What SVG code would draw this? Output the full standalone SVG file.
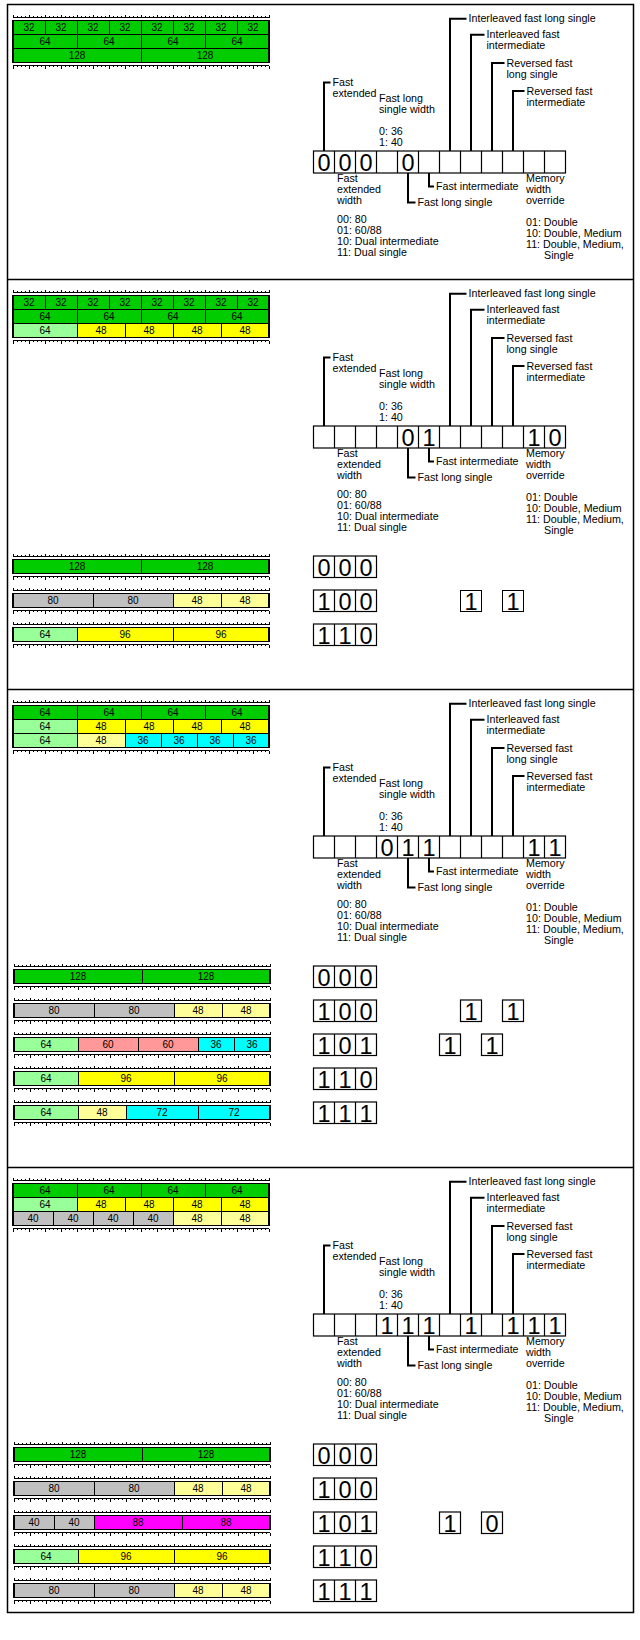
<svg xmlns="http://www.w3.org/2000/svg" xmlns:xlink="http://www.w3.org/1999/xlink" width="640" height="1640" viewBox="0 0 640 1640">
<style>
.t{font-family:"Liberation Sans",Arial,sans-serif;font-size:10.7px;fill:#000}
.bl{font-family:"Liberation Sans",Arial,sans-serif;font-size:10px;fill:#000;text-anchor:middle}
.dg{font-family:"Liberation Sans",Arial,sans-serif;font-size:23.5px;fill:#000;text-anchor:middle}
.cell{fill:#fff;stroke:#000;stroke-width:1.2}
.cl{fill:none;stroke:#000;stroke-width:1.2}
.lead{fill:none;stroke:#000;stroke-width:2}
.bar rect{stroke:#000;stroke-width:1;shape-rendering:crispEdges}
.bar rect.ol{fill:none;stroke-width:1.5}
.rul{fill:none;stroke:#000;stroke-width:1;shape-rendering:crispEdges}
.g{fill:#00cc00}.lg{fill:#99ff99}.y{fill:#ffff00}.ly{fill:#ffff99}.gr{fill:#c0c0c0}.c{fill:#00ffff}.s{fill:#ff9999}.m{fill:#ff00ff}
.frame{fill:none;stroke:#000;stroke-width:1.5}
</style>
<defs>
<path id="rT" class="rul" d="M13,0H269M13,0v-3m4,3v-1.5m4,1.5v-1.5m4,1.5v-1.5m4,1.5v-3m4,3v-1.5m4,1.5v-1.5m4,1.5v-1.5m4,1.5v-3m4,3v-1.5m4,1.5v-1.5m4,1.5v-1.5m4,1.5v-3m4,3v-1.5m4,1.5v-1.5m4,1.5v-1.5m4,1.5v-3m4,3v-1.5m4,1.5v-1.5m4,1.5v-1.5m4,1.5v-3m4,3v-1.5m4,1.5v-1.5m4,1.5v-1.5m4,1.5v-3m4,3v-1.5m4,1.5v-1.5m4,1.5v-1.5m4,1.5v-3m4,3v-1.5m4,1.5v-1.5m4,1.5v-1.5m4,1.5v-3m4,3v-1.5m4,1.5v-1.5m4,1.5v-1.5m4,1.5v-3m4,3v-1.5m4,1.5v-1.5m4,1.5v-1.5m4,1.5v-3m4,3v-1.5m4,1.5v-1.5m4,1.5v-1.5m4,1.5v-3m4,3v-1.5m4,1.5v-1.5m4,1.5v-1.5m4,1.5v-3m4,3v-1.5m4,1.5v-1.5m4,1.5v-1.5m4,1.5v-3m4,3v-1.5m4,1.5v-1.5m4,1.5v-1.5m4,1.5v-3m4,3v-1.5m4,1.5v-1.5m4,1.5v-1.5m4,1.5v-3m4,3v-1.5m4,1.5v-1.5m4,1.5v-1.5m4,1.5v-3"/>
<g id="reg">
<rect class="cell" x="313.5" y="146.5" width="252" height="22"/>
<path class="cl" d="M334.5,146.5v22M355.5,146.5v22M376.5,146.5v22M397.5,146.5v22M418.5,146.5v22M439.5,146.5v22M460.5,146.5v22M481.5,146.5v22M502.5,146.5v22M523.5,146.5v22M544.5,146.5v22"/>
</g>
<g id="b3">
<rect class="cell" x="313.5" y="0" width="63" height="21.5"/>
<path class="cl" d="M334.5,0v21.5M355.5,0v21.5"/>
</g>
<path id="leads" class="lead" d="M330.5,78H324V146.5M466.5,14.2H450V146.5M484.5,30.2H471V146.5M504.5,58.5H492V146.5M524.5,86.5H513V146.5M429,168.5V182H434M408,168.5V198H415.5"/>
</defs>

<g id="frame">
<rect class="frame" x="7.5" y="4.5" width="626" height="1608"/>
<path class="frame" d="M7.5,279.5H633.5M7.5,689.5H633.5M7.5,1167.5H633.5"/>
</g>

<!-- PANEL 1 -->
<g id="panel1" transform="translate(0,4.5)">
<g id="p1-bars" class="bar">
<use href="#rT" transform="translate(0,13)"/>
<rect class="g" x="13" y="16" width="32" height="14"/><rect class="g" x="45" y="16" width="32" height="14"/><rect class="g" x="77" y="16" width="32" height="14"/><rect class="g" x="109" y="16" width="32" height="14"/><rect class="g" x="141" y="16" width="32" height="14"/><rect class="g" x="173" y="16" width="32" height="14"/><rect class="g" x="205" y="16" width="32" height="14"/><rect class="g" x="237" y="16" width="32" height="14"/>
<rect class="g" x="13" y="30" width="64" height="14"/><rect class="g" x="77" y="30" width="64" height="14"/><rect class="g" x="141" y="30" width="64" height="14"/><rect class="g" x="205" y="30" width="64" height="14"/>
<rect class="g" x="13" y="44" width="128" height="14"/><rect class="g" x="141" y="44" width="128" height="14"/>
<rect class="ol" x="13" y="16" width="256" height="42"/>
<use href="#rT" transform="translate(0,61) scale(1,-1)"/>
<text class="bl" x="29" y="26.6">32</text><text class="bl" x="61" y="26.6">32</text><text class="bl" x="93" y="26.6">32</text><text class="bl" x="125" y="26.6">32</text><text class="bl" x="157" y="26.6">32</text><text class="bl" x="189" y="26.6">32</text><text class="bl" x="221" y="26.6">32</text><text class="bl" x="253" y="26.6">32</text>
<text class="bl" x="45" y="40.6">64</text><text class="bl" x="109" y="40.6">64</text><text class="bl" x="173" y="40.6">64</text><text class="bl" x="237" y="40.6">64</text>
<text class="bl" x="77" y="54.6">128</text><text class="bl" x="205" y="54.6">128</text>
</g>
<g id="p1-register">
<use href="#reg"/>
<text class="dg" x="324" y="166.5">0</text><text class="dg" x="345" y="166.5">0</text><text class="dg" x="366" y="166.5">0</text><text class="dg" x="408" y="166.5">0</text>
</g>
<g id="p1-connectors"><use href="#leads"/></g>
<g id="p1-labels" class="t">
<text x="332.5" y="81.8">Fast<tspan x="332.5" dy="11">extended</tspan></text>
<text x="468.5" y="17.8">Interleaved fast long single</text>
<text x="486.5" y="33.8">Interleaved fast<tspan x="486.5" dy="11">intermediate</tspan></text>
<text x="506.5" y="62.1">Reversed fast<tspan x="506.5" dy="11">long single</tspan></text>
<text x="526.5" y="90.1">Reversed fast<tspan x="526.5" dy="11">intermediate</tspan></text>
<text x="379" y="97.8">Fast long<tspan x="379" dy="11">single width</tspan><tspan x="379" dy="22">0: 36</tspan><tspan x="379" dy="11">1: 40</tspan></text>
<text x="337" y="177.8">Fast<tspan x="337" dy="11">extended</tspan><tspan x="337" dy="11">width</tspan></text>
<text x="436" y="185.8">Fast intermediate</text>
<text x="417.5" y="201.8">Fast long single</text>
<text x="337" y="218.8">00: 80<tspan x="337" dy="11">01: 60/88</tspan><tspan x="337" dy="11">10: Dual intermediate</tspan><tspan x="337" dy="11">11: Dual single</tspan></text>
<text x="526" y="177.8">Memory<tspan x="526" dy="11">width</tspan><tspan x="526" dy="11">override</tspan></text>
<text x="526" y="221.8">01: Double<tspan x="526" dy="11">10: Double, Medium</tspan><tspan x="526" dy="11">11: Double, Medium,</tspan><tspan x="544" dy="11">Single</tspan></text>
</g>
</g>

<!-- PANEL 2 -->
<g id="panel2" transform="translate(0,279.5)">
<g id="p2-bars" class="bar">
<use href="#rT" transform="translate(0,13)"/>
<rect class="g" x="13" y="16" width="32" height="14"/><rect class="g" x="45" y="16" width="32" height="14"/><rect class="g" x="77" y="16" width="32" height="14"/><rect class="g" x="109" y="16" width="32" height="14"/><rect class="g" x="141" y="16" width="32" height="14"/><rect class="g" x="173" y="16" width="32" height="14"/><rect class="g" x="205" y="16" width="32" height="14"/><rect class="g" x="237" y="16" width="32" height="14"/>
<rect class="g" x="13" y="30" width="64" height="14"/><rect class="g" x="77" y="30" width="64" height="14"/><rect class="g" x="141" y="30" width="64" height="14"/><rect class="g" x="205" y="30" width="64" height="14"/>
<rect class="lg" x="13" y="44" width="64" height="14"/><rect class="y" x="77" y="44" width="48" height="14"/><rect class="y" x="125" y="44" width="48" height="14"/><rect class="y" x="173" y="44" width="48" height="14"/><rect class="y" x="221" y="44" width="48" height="14"/>
<rect class="ol" x="13" y="16" width="256" height="42"/>
<use href="#rT" transform="translate(0,61) scale(1,-1)"/>
<text class="bl" x="29" y="26.6">32</text><text class="bl" x="61" y="26.6">32</text><text class="bl" x="93" y="26.6">32</text><text class="bl" x="125" y="26.6">32</text><text class="bl" x="157" y="26.6">32</text><text class="bl" x="189" y="26.6">32</text><text class="bl" x="221" y="26.6">32</text><text class="bl" x="253" y="26.6">32</text>
<text class="bl" x="45" y="40.6">64</text><text class="bl" x="109" y="40.6">64</text><text class="bl" x="173" y="40.6">64</text><text class="bl" x="237" y="40.6">64</text>
<text class="bl" x="45" y="54.6">64</text><text class="bl" x="101" y="54.6">48</text><text class="bl" x="149" y="54.6">48</text><text class="bl" x="197" y="54.6">48</text><text class="bl" x="245" y="54.6">48</text>
</g>
<g id="p2-register">
<use href="#reg"/>
<text class="dg" x="408" y="166.5">0</text><text class="dg" x="429" y="166.5">1</text><text class="dg" x="534" y="166.5">1</text><text class="dg" x="555" y="166.5">0</text>
</g>
<g id="p2-connectors"><use href="#leads"/></g>
<g id="p2-labels" class="t">
<text x="332.5" y="81.8">Fast<tspan x="332.5" dy="11">extended</tspan></text>
<text x="468.5" y="17.8">Interleaved fast long single</text>
<text x="486.5" y="33.8">Interleaved fast<tspan x="486.5" dy="11">intermediate</tspan></text>
<text x="506.5" y="62.1">Reversed fast<tspan x="506.5" dy="11">long single</tspan></text>
<text x="526.5" y="90.1">Reversed fast<tspan x="526.5" dy="11">intermediate</tspan></text>
<text x="379" y="97.8">Fast long<tspan x="379" dy="11">single width</tspan><tspan x="379" dy="22">0: 36</tspan><tspan x="379" dy="11">1: 40</tspan></text>
<text x="337" y="177.8">Fast<tspan x="337" dy="11">extended</tspan><tspan x="337" dy="11">width</tspan></text>
<text x="436" y="185.8">Fast intermediate</text>
<text x="417.5" y="201.8">Fast long single</text>
<text x="337" y="218.8">00: 80<tspan x="337" dy="11">01: 60/88</tspan><tspan x="337" dy="11">10: Dual intermediate</tspan><tspan x="337" dy="11">11: Dual single</tspan></text>
<text x="526" y="177.8">Memory<tspan x="526" dy="11">width</tspan><tspan x="526" dy="11">override</tspan></text>
<text x="526" y="221.8">01: Double<tspan x="526" dy="11">10: Double, Medium</tspan><tspan x="526" dy="11">11: Double, Medium,</tspan><tspan x="544" dy="11">Single</tspan></text>
</g>
<g id="p2-rows">
<g id="p2-row000" class="bar">
<use href="#rT" transform="translate(0,277)"/>
<rect class="g" x="13" y="280" width="128" height="14"/><rect class="g" x="141" y="280" width="128" height="14"/>
<rect class="ol" x="13" y="280" width="256" height="14"/>
<use href="#rT" transform="translate(0,297) scale(1,-1)"/>
<text class="bl" x="77" y="290.6">128</text><text class="bl" x="205" y="290.6">128</text>
<use href="#b3" transform="translate(0,276.5)"/>
<text class="dg" x="324" y="296">0</text><text class="dg" x="345" y="296">0</text><text class="dg" x="366" y="296">0</text>
</g>
<g id="p2-row100" class="bar">
<use href="#rT" transform="translate(0,311)"/>
<rect class="gr" x="13" y="314" width="80" height="14"/><rect class="gr" x="93" y="314" width="80" height="14"/><rect class="ly" x="173" y="314" width="48" height="14"/><rect class="ly" x="221" y="314" width="48" height="14"/>
<rect class="ol" x="13" y="314" width="256" height="14"/>
<use href="#rT" transform="translate(0,331) scale(1,-1)"/>
<text class="bl" x="53" y="324.6">80</text><text class="bl" x="133" y="324.6">80</text><text class="bl" x="197" y="324.6">48</text><text class="bl" x="245" y="324.6">48</text>
<use href="#b3" transform="translate(0,310.5)"/>
<text class="dg" x="324" y="330">1</text><text class="dg" x="345" y="330">0</text><text class="dg" x="366" y="330">0</text>
<rect class="cell" x="460.5" y="310.5" width="21" height="21.5"/><text class="dg" x="471" y="330">1</text>
<rect class="cell" x="502.5" y="310.5" width="21" height="21.5"/><text class="dg" x="513" y="330">1</text>
</g>
<g id="p2-row110" class="bar">
<use href="#rT" transform="translate(0,345)"/>
<rect class="lg" x="13" y="348" width="64" height="14"/><rect class="y" x="77" y="348" width="96" height="14"/><rect class="y" x="173" y="348" width="96" height="14"/>
<rect class="ol" x="13" y="348" width="256" height="14"/>
<use href="#rT" transform="translate(0,365) scale(1,-1)"/>
<text class="bl" x="45" y="358.6">64</text><text class="bl" x="125" y="358.6">96</text><text class="bl" x="221" y="358.6">96</text>
<use href="#b3" transform="translate(0,344.5)"/>
<text class="dg" x="324" y="364">1</text><text class="dg" x="345" y="364">1</text><text class="dg" x="366" y="364">0</text>
</g>
</g>
</g>

<!-- PANEL 3 -->
<g id="panel3" transform="translate(0,689.5)">
<g id="p3-bars" class="bar">
<use href="#rT" transform="translate(0,13)"/>
<rect class="g" x="13" y="16" width="64" height="14"/><rect class="g" x="77" y="16" width="64" height="14"/><rect class="g" x="141" y="16" width="64" height="14"/><rect class="g" x="205" y="16" width="64" height="14"/>
<rect class="lg" x="13" y="30" width="64" height="14"/><rect class="y" x="77" y="30" width="48" height="14"/><rect class="y" x="125" y="30" width="48" height="14"/><rect class="y" x="173" y="30" width="48" height="14"/><rect class="y" x="221" y="30" width="48" height="14"/>
<rect class="lg" x="13" y="44" width="64" height="14"/><rect class="ly" x="77" y="44" width="48" height="14"/><rect class="c" x="125" y="44" width="36" height="14"/><rect class="c" x="161" y="44" width="36" height="14"/><rect class="c" x="197" y="44" width="36" height="14"/><rect class="c" x="233" y="44" width="36" height="14"/>
<rect class="ol" x="13" y="16" width="256" height="42"/>
<use href="#rT" transform="translate(0,61) scale(1,-1)"/>
<text class="bl" x="45" y="26.6">64</text><text class="bl" x="109" y="26.6">64</text><text class="bl" x="173" y="26.6">64</text><text class="bl" x="237" y="26.6">64</text>
<text class="bl" x="45" y="40.6">64</text><text class="bl" x="101" y="40.6">48</text><text class="bl" x="149" y="40.6">48</text><text class="bl" x="197" y="40.6">48</text><text class="bl" x="245" y="40.6">48</text>
<text class="bl" x="45" y="54.6">64</text><text class="bl" x="101" y="54.6">48</text><text class="bl" x="143" y="54.6">36</text><text class="bl" x="179" y="54.6">36</text><text class="bl" x="215" y="54.6">36</text><text class="bl" x="251" y="54.6">36</text>
</g>
<g id="p3-register">
<use href="#reg"/>
<text class="dg" x="387" y="166.5">0</text><text class="dg" x="408" y="166.5">1</text><text class="dg" x="429" y="166.5">1</text><text class="dg" x="534" y="166.5">1</text><text class="dg" x="555" y="166.5">1</text>
</g>
<g id="p3-connectors"><use href="#leads"/></g>
<g id="p3-labels" class="t">
<text x="332.5" y="81.8">Fast<tspan x="332.5" dy="11">extended</tspan></text>
<text x="468.5" y="17.8">Interleaved fast long single</text>
<text x="486.5" y="33.8">Interleaved fast<tspan x="486.5" dy="11">intermediate</tspan></text>
<text x="506.5" y="62.1">Reversed fast<tspan x="506.5" dy="11">long single</tspan></text>
<text x="526.5" y="90.1">Reversed fast<tspan x="526.5" dy="11">intermediate</tspan></text>
<text x="379" y="97.8">Fast long<tspan x="379" dy="11">single width</tspan><tspan x="379" dy="22">0: 36</tspan><tspan x="379" dy="11">1: 40</tspan></text>
<text x="337" y="177.8">Fast<tspan x="337" dy="11">extended</tspan><tspan x="337" dy="11">width</tspan></text>
<text x="436" y="185.8">Fast intermediate</text>
<text x="417.5" y="201.8">Fast long single</text>
<text x="337" y="218.8">00: 80<tspan x="337" dy="11">01: 60/88</tspan><tspan x="337" dy="11">10: Dual intermediate</tspan><tspan x="337" dy="11">11: Dual single</tspan></text>
<text x="526" y="177.8">Memory<tspan x="526" dy="11">width</tspan><tspan x="526" dy="11">override</tspan></text>
<text x="526" y="221.8">01: Double<tspan x="526" dy="11">10: Double, Medium</tspan><tspan x="526" dy="11">11: Double, Medium,</tspan><tspan x="544" dy="11">Single</tspan></text>
</g>
<g id="p3-rows">
<g id="p3-row000">
<g class="bar" transform="translate(1,0)">
<use href="#rT" transform="translate(0,277)"/>
<rect class="g" x="13" y="280" width="128" height="14"/><rect class="g" x="141" y="280" width="128" height="14"/>
<rect class="ol" x="13" y="280" width="256" height="14"/>
<use href="#rT" transform="translate(0,297) scale(1,-1)"/>
<text class="bl" x="77" y="290.6">128</text><text class="bl" x="205" y="290.6">128</text>
</g>
<use href="#b3" transform="translate(0,276.5)"/>
<text class="dg" x="324" y="296">0</text><text class="dg" x="345" y="296">0</text><text class="dg" x="366" y="296">0</text>
</g>
<g id="p3-row100">
<g class="bar" transform="translate(1,0)">
<use href="#rT" transform="translate(0,311)"/>
<rect class="gr" x="13" y="314" width="80" height="14"/><rect class="gr" x="93" y="314" width="80" height="14"/><rect class="ly" x="173" y="314" width="48" height="14"/><rect class="ly" x="221" y="314" width="48" height="14"/>
<rect class="ol" x="13" y="314" width="256" height="14"/>
<use href="#rT" transform="translate(0,331) scale(1,-1)"/>
<text class="bl" x="53" y="324.6">80</text><text class="bl" x="133" y="324.6">80</text><text class="bl" x="197" y="324.6">48</text><text class="bl" x="245" y="324.6">48</text>
</g>
<use href="#b3" transform="translate(0,310.5)"/>
<text class="dg" x="324" y="330">1</text><text class="dg" x="345" y="330">0</text><text class="dg" x="366" y="330">0</text>
<rect class="cell" x="460.5" y="310.5" width="21" height="21.5"/><text class="dg" x="471" y="330">1</text>
<rect class="cell" x="502.5" y="310.5" width="21" height="21.5"/><text class="dg" x="513" y="330">1</text>
</g>
<g id="p3-row101">
<g class="bar" transform="translate(1,0)">
<use href="#rT" transform="translate(0,345)"/>
<rect class="lg" x="13" y="348" width="64" height="14"/><rect class="s" x="77" y="348" width="60" height="14"/><rect class="s" x="137" y="348" width="60" height="14"/><rect class="c" x="197" y="348" width="36" height="14"/><rect class="c" x="233" y="348" width="36" height="14"/>
<rect class="ol" x="13" y="348" width="256" height="14"/>
<use href="#rT" transform="translate(0,365) scale(1,-1)"/>
<text class="bl" x="45" y="358.6">64</text><text class="bl" x="107" y="358.6">60</text><text class="bl" x="167" y="358.6">60</text><text class="bl" x="215" y="358.6">36</text><text class="bl" x="251" y="358.6">36</text>
</g>
<use href="#b3" transform="translate(0,344.5)"/>
<text class="dg" x="324" y="364">1</text><text class="dg" x="345" y="364">0</text><text class="dg" x="366" y="364">1</text>
<rect class="cell" x="439.5" y="344.5" width="21" height="21.5"/><text class="dg" x="450" y="364">1</text>
<rect class="cell" x="481.5" y="344.5" width="21" height="21.5"/><text class="dg" x="492" y="364">1</text>
</g>
<g id="p3-row110">
<g class="bar" transform="translate(1,0)">
<use href="#rT" transform="translate(0,379)"/>
<rect class="lg" x="13" y="382" width="64" height="14"/><rect class="y" x="77" y="382" width="96" height="14"/><rect class="y" x="173" y="382" width="96" height="14"/>
<rect class="ol" x="13" y="382" width="256" height="14"/>
<use href="#rT" transform="translate(0,399) scale(1,-1)"/>
<text class="bl" x="45" y="392.6">64</text><text class="bl" x="125" y="392.6">96</text><text class="bl" x="221" y="392.6">96</text>
</g>
<use href="#b3" transform="translate(0,378.5)"/>
<text class="dg" x="324" y="398">1</text><text class="dg" x="345" y="398">1</text><text class="dg" x="366" y="398">0</text>
</g>
<g id="p3-row111">
<g class="bar" transform="translate(1,0)">
<use href="#rT" transform="translate(0,413)"/>
<rect class="lg" x="13" y="416" width="64" height="14"/><rect class="ly" x="77" y="416" width="48" height="14"/><rect class="c" x="125" y="416" width="72" height="14"/><rect class="c" x="197" y="416" width="72" height="14"/>
<rect class="ol" x="13" y="416" width="256" height="14"/>
<use href="#rT" transform="translate(0,433) scale(1,-1)"/>
<text class="bl" x="45" y="426.6">64</text><text class="bl" x="101" y="426.6">48</text><text class="bl" x="161" y="426.6">72</text><text class="bl" x="233" y="426.6">72</text>
</g>
<use href="#b3" transform="translate(0,412.5)"/>
<text class="dg" x="324" y="432">1</text><text class="dg" x="345" y="432">1</text><text class="dg" x="366" y="432">1</text>
</g>
</g>
</g>

<!-- PANEL 4 -->
<g id="panel4" transform="translate(0,1167.5)">
<g id="p4-bars" class="bar">
<use href="#rT" transform="translate(0,13)"/>
<rect class="g" x="13" y="16" width="64" height="14"/><rect class="g" x="77" y="16" width="64" height="14"/><rect class="g" x="141" y="16" width="64" height="14"/><rect class="g" x="205" y="16" width="64" height="14"/>
<rect class="lg" x="13" y="30" width="64" height="14"/><rect class="y" x="77" y="30" width="48" height="14"/><rect class="y" x="125" y="30" width="48" height="14"/><rect class="y" x="173" y="30" width="48" height="14"/><rect class="y" x="221" y="30" width="48" height="14"/>
<rect class="gr" x="13" y="44" width="40" height="14"/><rect class="gr" x="53" y="44" width="40" height="14"/><rect class="gr" x="93" y="44" width="40" height="14"/><rect class="gr" x="133" y="44" width="40" height="14"/><rect class="ly" x="173" y="44" width="48" height="14"/><rect class="ly" x="221" y="44" width="48" height="14"/>
<rect class="ol" x="13" y="16" width="256" height="42"/>
<use href="#rT" transform="translate(0,61) scale(1,-1)"/>
<text class="bl" x="45" y="26.6">64</text><text class="bl" x="109" y="26.6">64</text><text class="bl" x="173" y="26.6">64</text><text class="bl" x="237" y="26.6">64</text>
<text class="bl" x="45" y="40.6">64</text><text class="bl" x="101" y="40.6">48</text><text class="bl" x="149" y="40.6">48</text><text class="bl" x="197" y="40.6">48</text><text class="bl" x="245" y="40.6">48</text>
<text class="bl" x="33" y="54.6">40</text><text class="bl" x="73" y="54.6">40</text><text class="bl" x="113" y="54.6">40</text><text class="bl" x="153" y="54.6">40</text><text class="bl" x="197" y="54.6">48</text><text class="bl" x="245" y="54.6">48</text>
</g>
<g id="p4-register">
<use href="#reg"/>
<text class="dg" x="387" y="166.5">1</text><text class="dg" x="408" y="166.5">1</text><text class="dg" x="429" y="166.5">1</text><text class="dg" x="471" y="166.5">1</text><text class="dg" x="513" y="166.5">1</text><text class="dg" x="534" y="166.5">1</text><text class="dg" x="555" y="166.5">1</text>
</g>
<g id="p4-connectors"><use href="#leads"/></g>
<g id="p4-labels" class="t">
<text x="332.5" y="81.8">Fast<tspan x="332.5" dy="11">extended</tspan></text>
<text x="468.5" y="17.8">Interleaved fast long single</text>
<text x="486.5" y="33.8">Interleaved fast<tspan x="486.5" dy="11">intermediate</tspan></text>
<text x="506.5" y="62.1">Reversed fast<tspan x="506.5" dy="11">long single</tspan></text>
<text x="526.5" y="90.1">Reversed fast<tspan x="526.5" dy="11">intermediate</tspan></text>
<text x="379" y="97.8">Fast long<tspan x="379" dy="11">single width</tspan><tspan x="379" dy="22">0: 36</tspan><tspan x="379" dy="11">1: 40</tspan></text>
<text x="337" y="177.8">Fast<tspan x="337" dy="11">extended</tspan><tspan x="337" dy="11">width</tspan></text>
<text x="436" y="185.8">Fast intermediate</text>
<text x="417.5" y="201.8">Fast long single</text>
<text x="337" y="218.8">00: 80<tspan x="337" dy="11">01: 60/88</tspan><tspan x="337" dy="11">10: Dual intermediate</tspan><tspan x="337" dy="11">11: Dual single</tspan></text>
<text x="526" y="177.8">Memory<tspan x="526" dy="11">width</tspan><tspan x="526" dy="11">override</tspan></text>
<text x="526" y="221.8">01: Double<tspan x="526" dy="11">10: Double, Medium</tspan><tspan x="526" dy="11">11: Double, Medium,</tspan><tspan x="544" dy="11">Single</tspan></text>
</g>
<g id="p4-rows">
<g id="p4-row000">
<g class="bar" transform="translate(1,0)">
<use href="#rT" transform="translate(0,277)"/>
<rect class="g" x="13" y="280" width="128" height="14"/><rect class="g" x="141" y="280" width="128" height="14"/>
<rect class="ol" x="13" y="280" width="256" height="14"/>
<use href="#rT" transform="translate(0,297) scale(1,-1)"/>
<text class="bl" x="77" y="290.6">128</text><text class="bl" x="205" y="290.6">128</text>
</g>
<use href="#b3" transform="translate(0,276.5)"/>
<text class="dg" x="324" y="296">0</text><text class="dg" x="345" y="296">0</text><text class="dg" x="366" y="296">0</text>
</g>
<g id="p4-row100">
<g class="bar" transform="translate(1,0)">
<use href="#rT" transform="translate(0,311)"/>
<rect class="gr" x="13" y="314" width="80" height="14"/><rect class="gr" x="93" y="314" width="80" height="14"/><rect class="ly" x="173" y="314" width="48" height="14"/><rect class="ly" x="221" y="314" width="48" height="14"/>
<rect class="ol" x="13" y="314" width="256" height="14"/>
<use href="#rT" transform="translate(0,331) scale(1,-1)"/>
<text class="bl" x="53" y="324.6">80</text><text class="bl" x="133" y="324.6">80</text><text class="bl" x="197" y="324.6">48</text><text class="bl" x="245" y="324.6">48</text>
</g>
<use href="#b3" transform="translate(0,310.5)"/>
<text class="dg" x="324" y="330">1</text><text class="dg" x="345" y="330">0</text><text class="dg" x="366" y="330">0</text>
</g>
<g id="p4-row101">
<g class="bar" transform="translate(1,0)">
<use href="#rT" transform="translate(0,345)"/>
<rect class="gr" x="13" y="348" width="40" height="14"/><rect class="gr" x="53" y="348" width="40" height="14"/><rect class="m" x="93" y="348" width="88" height="14"/><rect class="m" x="181" y="348" width="88" height="14"/>
<rect class="ol" x="13" y="348" width="256" height="14"/>
<use href="#rT" transform="translate(0,365) scale(1,-1)"/>
<text class="bl" x="33" y="358.6">40</text><text class="bl" x="73" y="358.6">40</text><text class="bl" x="137" y="358.6">88</text><text class="bl" x="225" y="358.6">88</text>
</g>
<use href="#b3" transform="translate(0,344.5)"/>
<text class="dg" x="324" y="364">1</text><text class="dg" x="345" y="364">0</text><text class="dg" x="366" y="364">1</text>
<rect class="cell" x="439.5" y="344.5" width="21" height="21.5"/><text class="dg" x="450" y="364">1</text>
<rect class="cell" x="481.5" y="344.5" width="21" height="21.5"/><text class="dg" x="492" y="364">0</text>
</g>
<g id="p4-row110">
<g class="bar" transform="translate(1,0)">
<use href="#rT" transform="translate(0,379)"/>
<rect class="lg" x="13" y="382" width="64" height="14"/><rect class="y" x="77" y="382" width="96" height="14"/><rect class="y" x="173" y="382" width="96" height="14"/>
<rect class="ol" x="13" y="382" width="256" height="14"/>
<use href="#rT" transform="translate(0,399) scale(1,-1)"/>
<text class="bl" x="45" y="392.6">64</text><text class="bl" x="125" y="392.6">96</text><text class="bl" x="221" y="392.6">96</text>
</g>
<use href="#b3" transform="translate(0,378.5)"/>
<text class="dg" x="324" y="398">1</text><text class="dg" x="345" y="398">1</text><text class="dg" x="366" y="398">0</text>
</g>
<g id="p4-row111">
<g class="bar" transform="translate(1,0)">
<use href="#rT" transform="translate(0,413)"/>
<rect class="gr" x="13" y="416" width="80" height="14"/><rect class="gr" x="93" y="416" width="80" height="14"/><rect class="ly" x="173" y="416" width="48" height="14"/><rect class="ly" x="221" y="416" width="48" height="14"/>
<rect class="ol" x="13" y="416" width="256" height="14"/>
<use href="#rT" transform="translate(0,433) scale(1,-1)"/>
<text class="bl" x="53" y="426.6">80</text><text class="bl" x="133" y="426.6">80</text><text class="bl" x="197" y="426.6">48</text><text class="bl" x="245" y="426.6">48</text>
</g>
<use href="#b3" transform="translate(0,412.5)"/>
<text class="dg" x="324" y="432">1</text><text class="dg" x="345" y="432">1</text><text class="dg" x="366" y="432">1</text>
</g>
</g>
</g>
</svg>
